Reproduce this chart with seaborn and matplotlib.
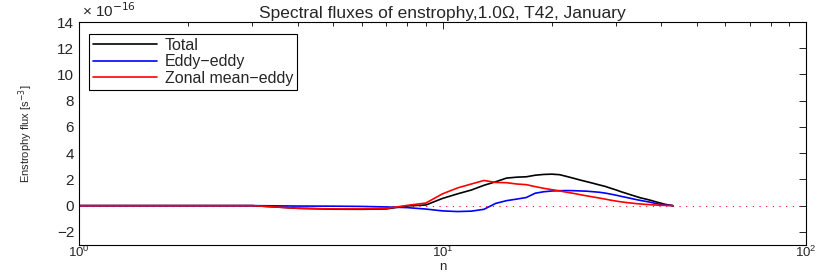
import numpy as np
import pandas as pd
import matplotlib
matplotlib.use("Agg")
import matplotlib.pyplot as plt
import matplotlib.ticker as mticker
from matplotlib.lines import Line2D
import seaborn as sns

# wavenumber n and fluxes (units of 1e-16 s^-3)
n = list(range(1, 44))
total = [0, 0, 0, -0.2, -0.27, -0.28, -0.25, -0.02, 0.05, 0.55, 0.9, 1.19, 1.55, 1.82,
         2.1, 2.17, 2.2, 2.32, 2.38, 2.4, 2.36, 2.22, 2.08, 1.94, 1.82, 1.7, 1.58, 1.47,
         1.33, 1.2, 1.06, 0.94, 0.82, 0.71, 0.6, 0.52, 0.44, 0.35, 0.26, 0.18, 0.1, 0.05, 0]
eddy_eddy = [0, 0, 0, -0.03, -0.04, -0.06, -0.1, -0.15, -0.26, -0.4, -0.45, -0.42, -0.28,
             0.17, 0.38, 0.5, 0.62, 0.95, 1.06, 1.12, 1.14, 1.15, 1.14, 1.12, 1.1, 1.06,
             1.02, 0.96, 0.88, 0.8, 0.71, 0.63, 0.55, 0.47, 0.4, 0.34, 0.28, 0.21, 0.14,
             0.09, 0.05, 0.02, 0]
zonal_eddy = [0, 0, 0, -0.2, -0.25, -0.25, -0.22, 0.02, 0.2, 0.9, 1.35, 1.65, 1.92, 1.77,
              1.75, 1.65, 1.6, 1.45, 1.32, 1.22, 1.12, 1.02, 0.93, 0.83, 0.74, 0.66, 0.58,
              0.5, 0.42, 0.35, 0.29, 0.24, 0.2, 0.16, 0.13, 0.1, 0.08, 0.06, 0.04, 0.03,
              0.02, 0.01, 0]
series_names = ["Total", "Eddy\u2212eddy", "Zonal mean\u2212eddy"]
series_colors = ["black", "blue", "red"]
y_ticks = [-2, 0, 2, 4, 6, 8, 10, 12, 14]
scale = 1e-16

df = pd.concat([
    pd.DataFrame({"n": n, "flux": np.array(v) * scale, "series": s})
    for s, v in zip(series_names, [total, eddy_eddy, zonal_eddy])
])

sns.set_style("white")
plt.rcParams["font.family"] = ["Liberation Sans", "DejaVu Sans"]
plt.rcParams["axes.unicode_minus"] = True

fig = plt.figure(figsize=(8.3, 2.73), dpi=100)
ax = fig.add_axes([79/830, 1-245/273, 727/830, 223/273])

ax.axhline(0, color="red", linestyle=(0, (1, 5)), linewidth=0.8)
sns.lineplot(data=df, x="n", y="flux", hue="series", hue_order=series_names,
             palette=dict(zip(series_names, series_colors)), linewidth=1.2,
             ax=ax, legend=False)

ax.set_xscale("log")
ax.set_xlim(1, 100)
ax.set_ylim(-3e-16, 14e-16)
ax.set_yticks(np.array(y_ticks) * scale)
ax.yaxis.set_major_formatter(mticker.FuncFormatter(lambda v, p: f"{v/scale:.0f}".replace("-", "\u2212")))
ax.text(0.004, 1.01, "\u00d7 10$^{\u221216}$", transform=ax.transAxes, fontsize=11,
        ha="left", va="bottom")

ax.tick_params(which="both", direction="in", top=True, right=True, labelsize=11,
               color="black")
ax.tick_params(axis="x", pad=0, labelsize=9.5)
ax.tick_params(which="major", length=5, width=0.6)
ax.tick_params(which="minor", length=3, width=0.6)
for sp in ax.spines.values():
    sp.set_color("black")
    sp.set_linewidth(0.8)

ax.set_title("Spectral fluxes of enstrophy,1.0\u03a9, T42, January", fontsize=12.5, pad=3)
ax.set_xlabel("n", fontsize=9.5)
ax.xaxis.label.set_va("bottom")
ax.xaxis.set_label_coords(0.5, -(273 - 245) / 223)
ax.set_ylabel("Enstrophy flux [s$^{-3}$]", fontsize=8, labelpad=16)

handles = [Line2D([], [], color=c, linewidth=1.2) for c in series_colors]
leg = ax.legend(handles, series_names, loc="upper left", bbox_to_anchor=(0.0138, 0.946),
                borderaxespad=0, fontsize=11.5, handlelength=4.0, frameon=True,
                fancybox=False, edgecolor="black", framealpha=1, labelspacing=0.08,
                borderpad=0.25, handletextpad=0.5)
leg.get_frame().set_linewidth(0.8)

fig.savefig("out.png", dpi=100)
